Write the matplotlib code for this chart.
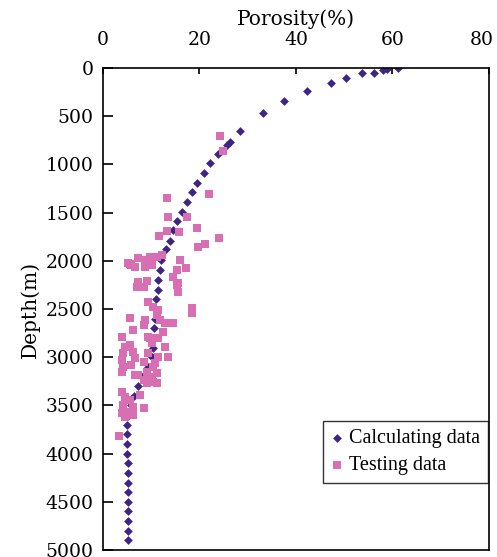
import matplotlib
matplotlib.use("Agg")
import matplotlib.pyplot as plt
import matplotlib.transforms as mtransforms

# Calculated porosity profile (depth in m, porosity in %)
calc_depth = [0, 13, 21, 49, 49, 100, 159, 235, 339, 463, 650, 771, 795, 895, 985,
              1093, 1190, 1285, 1387, 1490, 1590, 1685, 1790, 1880, 1995, 2100, 2195,
              2300, 2400, 2500, 2600, 2700, 2800, 2900, 3000, 3100, 3200, 3300, 3400,
              3500, 3600, 3700, 3800, 3900, 4000, 4100, 4200, 4300, 4400, 4500, 4600,
              4700, 4800, 4900]
calc_poro = [61.1, 58.8, 58.1, 56.2, 53.6, 50.3, 47.2, 42.3, 37.5, 33.1, 28.5, 26.3,
             25.7, 23.9, 22.2, 20.9, 19.5, 18.5, 17.5, 16.4, 15.4, 14.6, 13.9, 13.0,
             12.1, 11.9, 11.5, 11.3, 11.0, 10.9, 10.7, 10.6, 10.4, 10.3, 10.1, 9.3,
             8.3, 7.3, 6.4, 5.9, 5.4, 5.0, 5.0, 5.0, 5.0, 5.1, 5.1, 5.1, 5.1, 5.1,
             5.1, 5.1, 5.1, 5.2]

# Measured porosity samples
test_poro = [24.2, 24.8, 21.9, 13.3, 13.5, 17.5, 19.4, 15.8, 13.3, 11.7, 24.1, 21.2,
             19.6, 5.9, 7.3, 8.7, 9.7, 11.1, 12.2, 6.6, 8.7, 10.1, 5.2, 5.6,
             16.0, 17.3, 14.6, 15.6, 15.6, 15.3, 15.3, 7.3, 9.1, 7.0, 8.4,
             9.4, 10.4, 11.5, 18.4, 18.4, 5.6, 8.7, 11.1, 11.8, 14.6, 12.8,
             6.3, 8.4, 12.5, 3.9, 9.7, 11.5, 9.4, 4.6, 5.6, 10.1, 12.8,
             3.9, 6.6, 9.4, 11.5, 13.5, 4.2, 6.3, 8.4, 10.8, 4.2, 5.9, 10.4,
             3.9, 6.6, 9.1, 11.1, 7.3, 10.1, 8.4, 10.4, 11.1, 9.1,
             3.9, 4.6, 7.7, 5.6, 4.2, 8.4, 4.9, 6.3, 4.6, 3.9, 6.3, 3.4]
test_depth = [705, 858, 1310, 1345, 1550, 1550, 1663, 1698, 1693, 1740, 1767, 1828,
              1857, 2044, 1974, 1992, 1957, 1957, 1940, 2061, 2061, 2044, 2028, 2036,
              1992, 2078, 2165, 2233, 2320, 2095, 2251, 2217, 2207, 2269, 2269,
              2424, 2476, 2510, 2493, 2545, 2597, 2614, 2562, 2614, 2648, 2648,
              2718, 2666, 2736, 2787, 2804, 2804, 2787, 2891, 2873, 2856, 2891,
              3029, 3011, 2960, 2995, 2995, 2960, 2943, 3047, 3063, 3099, 3081, 3099,
              3150, 3185, 3150, 3167, 3185, 3202, 3236, 3254, 3271, 3271,
              3358, 3410, 3392, 3444, 3496, 3530, 3565, 3513, 3617, 3582, 3600, 3817]

x_ticks = [0, 20, 40, 60, 80]
y_ticks = [0, 500, 1000, 1500, 2000, 2500, 3000, 3500, 4000, 4500, 5000]

tick_family = "DejaVu Serif"
tick_size = 13.5
label_font = {"family": "DejaVu Serif", "size": 14.5}

fig = plt.figure(figsize=(4.97, 5.57), dpi=100)
ax = fig.add_axes([0.2072, 0.0126, 0.7767, 0.8653])

ax.scatter(calc_poro, calc_depth, marker="D", s=20, color="#3d2683",
           linewidths=0, zorder=2, label="Calculating data")
ax.scatter(test_poro, test_depth, marker="s", s=34, color="#d86fb3",
           linewidths=0, zorder=3, label="Testing data")

ax.set_xlim(0, 80)
ax.set_ylim(5000, 0)
ax.set_xticks(x_ticks)
ax.set_yticks(y_ticks)
ax.xaxis.tick_top()
ax.xaxis.set_label_position("top")
ax.tick_params(axis="x", direction="in", length=4, width=1.2, pad=14)
ax.tick_params(axis="y", direction="in", length=7, width=1.2, pad=7)
for lbl in ax.get_xticklabels() + ax.get_yticklabels():
    lbl.set_fontfamily(tick_family)
    lbl.set_fontsize(tick_size)
for sp in ax.spines.values():
    sp.set_linewidth(1.2)

# keep the last top tick label inside the canvas
last_lbl = ax.get_xticklabels()[-1]
last_lbl.set_transform(last_lbl.get_transform() +
                       mtransforms.ScaledTranslation(-5 / 72, 0, fig.dpi_scale_trans))

ax.set_xlabel("Porosity(%)", fontdict=label_font, labelpad=4)
ax.set_ylabel("Depth(m)", fontdict=label_font, labelpad=4)

leg = ax.legend(loc="upper left", bbox_to_anchor=(0.570, 0.268), borderaxespad=0,
                frameon=True, fancybox=False, edgecolor="black",
                prop={"family": "Liberation Serif", "size": 14.5},
                handletextpad=0.3, handlelength=0.6, borderpad=0.4,
                labelspacing=0.4, scatterpoints=1)
leg.get_frame().set_linewidth(1.0)

fig.savefig("out.png", dpi=100)
